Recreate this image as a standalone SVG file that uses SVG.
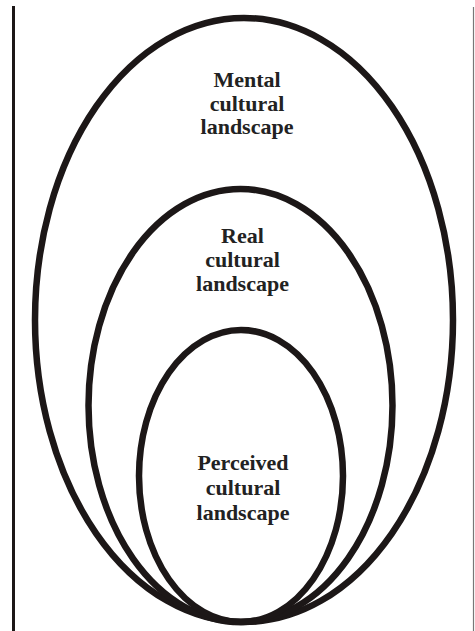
<svg xmlns="http://www.w3.org/2000/svg" width="475" height="631" viewBox="0 0 475 631">
  <style>
    .ring { fill: none; stroke: #1c1717; stroke-width: 6.5; }
    .label { font-family: "Liberation Serif", "Times New Roman", serif; font-weight: bold; font-size: 22px; fill: #222; text-anchor: middle; }
  </style>
  <rect width="475" height="631" fill="#fff"/>
  <!-- page borders -->
  <g id="borders">
    <line x1="13.5" y1="6" x2="13.5" y2="631" stroke="#1c1717" stroke-width="3"/>
    <line x1="473.5" y1="7" x2="473.5" y2="631" stroke="#777" stroke-width="1.2"/>
  </g>
  <g id="mental">
    <ellipse class="ring" cx="244" cy="320" rx="209" ry="302"/>
    <text class="label" x="247" y="87">Mental</text>
    <text class="label" x="247" y="110.5">cultural</text>
    <text class="label" x="247" y="134">landscape</text>
  </g>
  <g id="real">
    <ellipse class="ring" cx="240.5" cy="405.5" rx="152" ry="216.5"/>
    <text class="label" x="242.5" y="243">Real</text>
    <text class="label" x="242.5" y="267">cultural</text>
    <text class="label" x="242.5" y="291">landscape</text>
  </g>
  <g id="perceived">
    <ellipse class="ring" cx="241" cy="476" rx="102" ry="146"/>
    <text class="label" x="243" y="470">Perceived</text>
    <text class="label" x="243" y="495">cultural</text>
    <text class="label" x="243" y="520">landscape</text>
  </g>
</svg>
